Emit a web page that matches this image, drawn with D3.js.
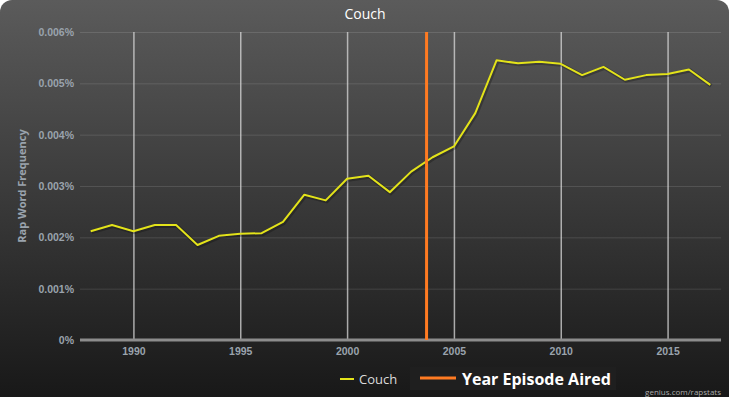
<!DOCTYPE html>
<html>
<head>
<meta charset="utf-8">
<script src="https://cdn.jsdelivr.net/npm/d3@7"></script>
<style>
  body { margin: 0; background: #fff; overflow: hidden; }
  svg { display: block; font-family: "Open Sans", "DejaVu Sans", sans-serif; }
</style>
</head>
<body>
<svg id="chart" width="730" height="397"></svg>
<script>
const svg = d3.select("#chart");
const width = +svg.attr("width");
const height = +svg.attr("height");

// data (values in percent)
const years = [1988, 1989, 1990, 1991, 1992, 1993, 1994, 1995, 1996, 1997,
               1998, 1999, 2000, 2001, 2002, 2003, 2004, 2005, 2006, 2007,
               2008, 2009, 2010, 2011, 2012, 2013, 2014, 2015, 2016, 2017];
const couch = [0.00212, 0.00224, 0.00212, 0.00224, 0.00224, 0.00185, 0.00203, 0.00207, 0.00208, 0.0023,
               0.00283, 0.00272, 0.00314, 0.0032, 0.00288, 0.00328, 0.00356, 0.00377, 0.00442, 0.00545,
               0.00539, 0.00542, 0.00538, 0.00516, 0.00532, 0.00507, 0.00516, 0.00518, 0.00527, 0.00497];
const xTicks = [1990, 1995, 2000, 2005, 2010, 2015];
const yTicks = [0, 0.001, 0.002, 0.003, 0.004, 0.005, 0.006];
const episodeYear = 2003.72;
const title = "Couch";

const margin = {top: 32, right: 9, bottom: 57, left: 80};
const innerWidth = width - margin.left - margin.right;
const innerHeight = height - margin.top - margin.bottom;

const defs = svg.append("defs");
const grad = defs.append("linearGradient")
    .attr("id", "bg").attr("x1", 0).attr("y1", 0).attr("x2", 0).attr("y2", 1);
grad.append("stop").attr("offset", "0%").attr("stop-color", "#5b5b5b");
grad.append("stop").attr("offset", "100%").attr("stop-color", "#161616");

svg.append("rect")
    .attr("x", 0).attr("y", 0)
    .attr("width", 729).attr("height", 410)
    .attr("rx", 12)
    .attr("fill", "url(#bg)");

const xScale = d3.scaleLinear()
    .domain([1987.5, 2017.5])
    .range([0, innerWidth]);

const yScale = d3.scaleLinear()
    .domain([0, 0.006])
    .range([innerHeight, 0]);

const g = svg.append("g")
    .attr("transform", `translate(${margin.left},${margin.top})`);

// horizontal grid
const yAxis = d3.axisLeft(yScale)
    .tickValues(yTicks)
    .tickSize(-innerWidth)
    .tickPadding(6)
    .tickFormat(d => d === 0 ? "0%" : d3.format(".3f")(d) + "%");

const yAxisG = g.append("g").call(yAxis);
yAxisG.select(".domain").remove();
yAxisG.selectAll(".tick line")
    .attr("stroke", "#ffffff")
    .attr("stroke-opacity", 0.12);
yAxisG.selectAll(".tick text")
    .attr("fill", "#9aa3ad")
    .style("font-size", "10.5px")
    .style("font-weight", "bold");

// vertical grid
const xAxis = d3.axisBottom(xScale)
    .tickValues(xTicks)
    .tickSize(-innerHeight)
    .tickPadding(8)
    .tickFormat(d3.format("d"));

const xAxisG = g.append("g")
    .attr("transform", `translate(0,${innerHeight})`)
    .call(xAxis);
xAxisG.select(".domain").remove();
xAxisG.selectAll(".tick line")
    .attr("stroke", "#d8d8d8")
    .attr("stroke-opacity", 0.75)
    .attr("stroke-width", 1.5);
xAxisG.selectAll(".tick text")
    .attr("fill", "#9aa3ad")
    .style("font-size", "10.5px")
    .style("font-weight", "bold");

// x baseline
g.append("line")
    .attr("x1", 0).attr("x2", innerWidth)
    .attr("y1", innerHeight).attr("y2", innerHeight)
    .attr("stroke", "#8c8c8c")
    .attr("stroke-width", 3);

// axis label
g.append("text")
    .attr("transform", "rotate(-90)")
    .attr("x", -innerHeight / 2)
    .attr("y", -54)
    .attr("text-anchor", "middle")
    .attr("fill", "#9aa3ad")
    .style("font-size", "11px")
    .style("font-weight", "bold")
    .text("Rap Word Frequency");

// series
const line = d3.line()
    .x((d, i) => xScale(years[i]))
    .y(d => yScale(d));

g.append("path")
    .datum(couch)
    .attr("d", line)
    .attr("fill", "none")
    .attr("stroke", "#000")
    .attr("stroke-opacity", 0.25)
    .attr("stroke-width", 4)
    .attr("transform", "translate(1,1)");

g.append("path")
    .datum(couch)
    .attr("d", line)
    .attr("fill", "none")
    .attr("stroke", "#e3e31a")
    .attr("stroke-width", 2)
    .attr("stroke-linejoin", "round");

// episode marker
g.append("line")
    .attr("x1", xScale(episodeYear)).attr("x2", xScale(episodeYear))
    .attr("y1", 0).attr("y2", innerHeight)
    .attr("stroke", "#ff7b22")
    .attr("stroke-width", 3);

// title
svg.append("text")
    .attr("x", 365).attr("y", 19)
    .attr("text-anchor", "middle")
    .attr("fill", "#ffffff")
    .style("font-size", "14px")
    .text(title);

// legend
const legend = svg.append("g");
legend.append("line")
    .attr("x1", 340).attr("x2", 354)
    .attr("y1", 379).attr("y2", 379)
    .attr("stroke", "#e3e31a").attr("stroke-width", 2);
legend.append("text")
    .attr("x", 359).attr("y", 384)
    .attr("fill", "#dcdcdc")
    .style("font-size", "13px")
    .text(title);

legend.append("rect")
    .attr("x", 410).attr("y", 367)
    .attr("width", 206).attr("height", 23)
    .attr("fill", "#1f1f1f");
legend.append("line")
    .attr("x1", 420).attr("x2", 456)
    .attr("y1", 378).attr("y2", 378)
    .attr("stroke", "#ff7b22").attr("stroke-width", 3);
legend.append("text")
    .attr("x", 462).attr("y", 385)
    .attr("fill", "#ffffff")
    .style("font-size", "16px")
    .style("font-weight", "bold")
    .text("Year Episode Aired");

svg.append("text")
    .attr("x", 721).attr("y", 395)
    .attr("text-anchor", "end")
    .attr("fill", "#aaaaaa")
    .style("font-size", "8px")
    .text("genius.com/rapstats");
</script>
</body>
</html>
